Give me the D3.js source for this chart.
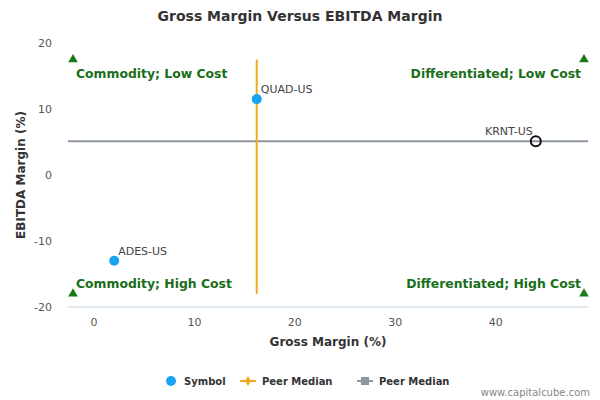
<!DOCTYPE html>
<html><head><meta charset="utf-8">
<script src="https://cdn.jsdelivr.net/npm/d3@7"></script>
<style>body{margin:0;font-family:"DejaVu Sans",sans-serif;}</style>
</head><body><svg id="chart" width="600" height="400"></svg>
<script>
// chart data
var symbols = ["QUAD-US", "KRNT-US", "ADES-US"];
var grossMargin = [16.2, 44.0, 2.0];
var ebitdaMargin = [11.5, 5.1, -13.0];
var peerMedianX = 16.2;
var peerMedianY = 5.1;
var xTicks = [0, 10, 20, 30, 40];
var yTicks = [-20, -10, 0, 10, 20];
var quadrants = ["Commodity; Low Cost", "Differentiated; Low Cost", "Commodity; High Cost", "Differentiated; High Cost"];

var svg = d3.select("#chart");
var x = d3.scaleLinear().domain([-2.6, 49.2]).range([68, 588]);
var y = d3.scaleLinear().domain([-20, 20]).range([307, 43]);

svg.append("text").attr("x", 300).attr("y", 21).attr("text-anchor", "middle")
  .attr("font-size", 14).attr("font-weight", "bold").attr("fill", "#333").text("Gross Margin Versus EBITDA Margin");

// axes
svg.append("line").attr("x1", 68).attr("x2", 588).attr("y1", 307).attr("y2", 307).attr("stroke", "#c0d0e0");
xTicks.forEach(function(t) {
  svg.append("text").attr("x", x(t)).attr("y", 326).attr("text-anchor", "middle")
    .attr("font-size", 11).attr("fill", "#555").text(t);
});
yTicks.forEach(function(t) {
  svg.append("text").attr("x", 52).attr("y", y(t) + 4).attr("text-anchor", "end")
    .attr("font-size", 11).attr("fill", "#555").text(t);
});
svg.append("text").attr("x", 328).attr("y", 346).attr("text-anchor", "middle")
  .attr("font-size", 12).attr("font-weight", "bold").attr("fill", "#333").text("Gross Margin (%)");
svg.append("text").attr("transform", "translate(25,175) rotate(-90)").attr("text-anchor", "middle")
  .attr("font-size", 12).attr("font-weight", "bold").attr("fill", "#333").text("EBITDA Margin (%)");

// peer medians
svg.append("line").attr("x1", 68).attr("x2", 588).attr("y1", y(peerMedianY)).attr("y2", y(peerMedianY))
  .attr("stroke", "#8c96a0").attr("stroke-width", 2);
svg.append("line").attr("x1", x(peerMedianX)).attr("x2", x(peerMedianX)).attr("y1", y(17.5)).attr("y2", y(-18))
  .attr("stroke", "#f5a623").attr("stroke-width", 2);

// quadrant markers
var qx = [-2.1, 48.8, -2.1, 48.8], qy = [17.5, 17.5, -18, -18];
quadrants.forEach(function(q, i) {
  svg.append("path").attr("d", d3.symbol(d3.symbolTriangle, 40)())
    .attr("transform", "translate(" + x(qx[i]) + "," + y(qy[i]) + ")").attr("fill", "#1a7a1a");
  var left = i % 2 === 0;
  svg.append("text").attr("x", left ? 76 : 581).attr("y", y(qy[i]) + (i < 2 ? 18 : -6))
    .attr("text-anchor", left ? "start" : "end").attr("font-size", 12.4).attr("font-weight", "bold")
    .attr("fill", "#1a6e1a").text(q);
});

// points
symbols.forEach(function(s, i) {
  var hollow = s === "KRNT-US";
  svg.append("circle").attr("cx", x(grossMargin[i])).attr("cy", y(ebitdaMargin[i])).attr("r", 5)
    .attr("fill", hollow ? "none" : "#1aa3f0").attr("stroke", hollow ? "#111" : "none").attr("stroke-width", 2);
  svg.append("text").attr("x", x(grossMargin[i]) + (hollow ? -3 : 4)).attr("y", y(ebitdaMargin[i]) - 6)
    .attr("text-anchor", hollow ? "end" : "start").attr("font-size", 11).attr("fill", "#444").text(s);
});

// legend
var lg = svg.append("g").attr("font-size", 10).attr("font-weight", "bold").attr("fill", "#333");
lg.append("circle").attr("cx", 171).attr("cy", 381).attr("r", 5).attr("fill", "#1aa3f0");
lg.append("text").attr("x", 184).attr("y", 385).text("Symbol");
lg.append("line").attr("x1", 240).attr("x2", 256).attr("y1", 381).attr("y2", 381).attr("stroke", "#f5a623").attr("stroke-width", 2);
lg.append("path").attr("d", d3.symbol(d3.symbolDiamond, 30)()).attr("transform", "translate(248,381)").attr("fill", "#f5a623");
lg.append("text").attr("x", 262).attr("y", 385).text("Peer Median");
lg.append("line").attr("x1", 357).attr("x2", 373).attr("y1", 381).attr("y2", 381).attr("stroke", "#8c96a0").attr("stroke-width", 2);
lg.append("rect").attr("x", 361).attr("y", 377).attr("width", 8).attr("height", 8).attr("fill", "#8c96a0");
lg.append("text").attr("x", 379).attr("y", 385).text("Peer Median");

svg.append("text").attr("x", 590).attr("y", 396).attr("text-anchor", "end")
  .attr("font-size", 10).attr("fill", "#888").text("www.capitalcube.com");
</script></body></html>
